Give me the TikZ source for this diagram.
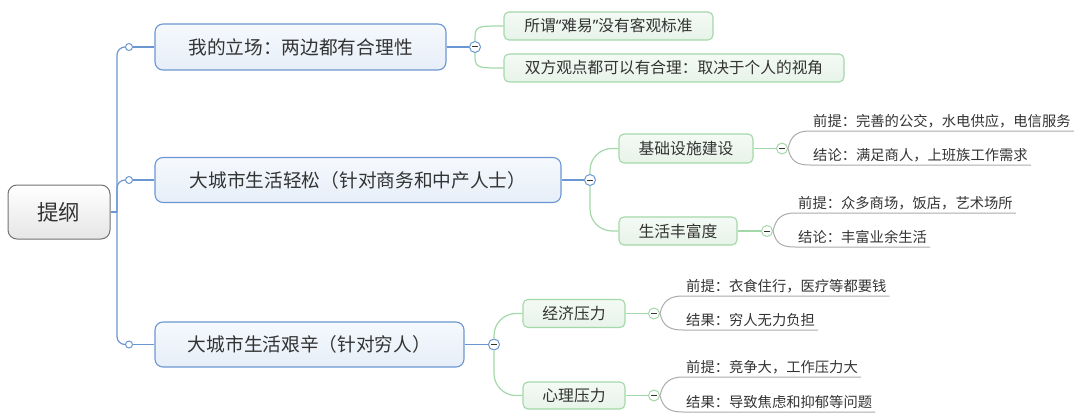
\documentclass[tikz,border=0pt]{standalone}
\usepackage{fontspec}
\setmainfont{Noto Sans CJK SC}
\newfontfamily\qfont{Noto Sans}
\definecolor{txt}{HTML}{333333}
\definecolor{mainline}{HTML}{6A97D3}
\definecolor{maintop}{HTML}{F6F9FD}
\definecolor{mainbot}{HTML}{E6EEF8}
\definecolor{subline}{HTML}{A3D8A8}
\definecolor{subtop}{HTML}{F4FAF5}
\definecolor{subbot}{HTML}{E7F3E9}
\definecolor{leafline}{HTML}{ABABAB}
\definecolor{rootdraw}{HTML}{727272}
\definecolor{rootbot}{HTML}{E6E6E6}
\begin{document}
\begin{tikzpicture}[x=1pt,y=-1pt,
  rootbox/.style={draw=rootdraw, line width=1pt, rounded corners=9pt, top color=white, bottom color=rootbot, minimum width=102pt, minimum height=54pt, inner sep=0pt, text=txt, font=\fontsize{21.5}{24}\selectfont},
  mainbox/.style={draw=mainline, line width=1.1pt, rounded corners=8pt, top color=maintop, bottom color=mainbot, minimum height=45pt, inner sep=0pt, text=txt, font=\fontsize{18.7}{22}\selectfont},
  subbox/.style={draw=subline, line width=1.1pt, rounded corners=5pt, top color=subtop, bottom color=subbot, minimum height=28pt, inner sep=0pt, text=txt, font=\fontsize{15.8}{18}\selectfont},
  leafbox/.style={draw=subline, line width=1.1pt, rounded corners=5pt, top color=subtop, bottom color=subbot, minimum height=28pt, inner sep=0pt, text=txt, font=\fontsize{15.7}{18}\selectfont},
  leaftext/.style={anchor=south west, inner xsep=3pt, inner ysep=3pt, text=txt, font=\fontsize{14.3}{16}\selectfont},
  knob/.style={circle, draw=mainline, fill=white, line width=1pt, minimum size=7pt, inner sep=0pt},
  collapser/.style={circle, draw=#1, fill=white, line width=1pt, minimum size=11pt, inner sep=0pt,
    path picture={\draw[line width=1pt, txt] ([xshift=-2.8pt]path picture bounding box.center) -- ([xshift=2.8pt]path picture bounding box.center);}},
  mainconn/.style={draw=mainline, line width=1.2pt},
  subconn/.style={draw=subline, line width=1.2pt},
  leafconn/.style={draw=leafline, line width=1pt}
]
\useasboundingbox (0,0) rectangle (1080,420);

% root and trunk
\node[rootbox] (root) at (59,212) {提纲};
\coordinate (tr) at (117,212);
\node[knob] (c1) at (129,47) {};
\node[knob] (c2) at (129,180) {};
\node[knob] (c3) at (129,344.5) {};

% main topics
\node[mainbox, minimum width=291pt, minimum height=46pt] (m1) at (300.5,47) {我的立场：两边都有合理性};
\node[mainbox, minimum width=406pt] (m2) at (358,180) {大城市生活轻松（针对商务和中产人士）};
\node[mainbox, minimum width=309pt] (m3) at (309.5,344.5) {大城市生活艰辛（针对穷人）};

\node[collapser=mainline] (x1) at (475,47) {};
\node[collapser=mainline] (x2) at (590,180) {};
\node[collapser=mainline] (x3) at (494,344.5) {};

% first-level connectors
\draw[mainconn] (root.east) -- (tr);
\draw[mainconn, rounded corners=8pt] (c1.west) -| (tr) |- (c3.west);
\draw[mainconn, rounded corners=8pt] (c2.west) -| (tr);
\draw[mainconn] (c1.east) -- (m1.west);
\draw[mainconn] (c2.east) -- (m2.west);
\draw[mainconn] (c3.east) -- (m3.west);
\draw[mainconn] (m1.east) -- (x1.west);
\draw[mainconn] (m2.east) -- (x2.west);
\draw[mainconn] (m3.east) -- (x3.west);

% topic 1 children
\node[leafbox, minimum width=209pt] (a1) at (608.5,26) {所谓{\qfont“}难易{\qfont”}没有客观标准};
\node[leafbox, minimum width=340pt] (a2) at (674,68) {双方观点都可以有合理：取决于个人的视角};
\draw[subconn] (x1.north) .. controls (x1.north |- a1.west) .. (a1.west);
\draw[subconn] (x1.south) .. controls (x1.south |- a2.west) .. (a2.west);

% topic 2 children
\node[subbox, minimum width=134pt, minimum height=29pt] (s1) at (686,148.5) {基础设施建设};
\node[subbox, minimum width=118pt] (s2) at (678,231) {生活丰富度};
\draw[subconn, rounded corners=22pt] (x2.north) |- (s1.west);
\draw[subconn, rounded corners=22pt] (x2.south) |- (s2.west);
\node[collapser=subline] (y1) at (782,148.5) {};
\node[collapser=subline] (y2) at (767,231) {};
\draw[subconn] (s1.east) -- (y1.west);
\draw[subconn] (s2.east) -- (y2.west);

% topic 3 children
\node[subbox, minimum width=102pt] (s3) at (574,313.5) {经济压力};
\node[subbox, minimum width=102pt, minimum height=27pt] (s4) at (574,395.5) {心理压力};
\draw[subconn, rounded corners=22pt] (x3.north) |- (s3.west);
\draw[subconn, rounded corners=22pt] (x3.south) |- (s4.west);
\node[collapser=subline] (y3) at (654,313.5) {};
\node[collapser=subline] (y4) at (654,395.5) {};
\draw[subconn] (s3.east) -- (y3.west);
\draw[subconn] (s4.east) -- (y4.west);

% leaves
\node[leaftext] (l1) at (810,131) {前提：完善的公交，水电供应，电信服务};
\node[leaftext] (l2) at (810,165) {结论：满足商人，上班族工作需求};
\node[leaftext] (l3) at (795,213) {前提：众多商场，饭店，艺术场所};
\node[leaftext] (l4) at (795,247) {结论：丰富业余生活};
\node[leaftext] (l5) at (683,296) {前提：衣食住行，医疗等都要钱};
\node[leaftext] (l6) at (683,330) {结果：穷人无力负担};
\node[leaftext] (l7) at (683,377) {前提：竞争大，工作压力大};
\node[leaftext] (l8) at (683,412) {结果：导致焦虑和抑郁等问题};

\draw[leafconn] (y1.east) .. controls +(3,-13) and +(-13,0) .. (l1.south west) -- (l1.south east);
\draw[leafconn] (y1.east) .. controls +(3,13) and +(-13,0) .. (l2.south west) -- (l2.south east);
\draw[leafconn] (y2.east) .. controls +(3,-13) and +(-13,0) .. (l3.south west) -- (l3.south east);
\draw[leafconn] (y2.east) .. controls +(3,13) and +(-13,0) .. (l4.south west) -- (l4.south east);
\draw[leafconn] (y3.east) .. controls +(3,-13) and +(-13,0) .. (l5.south west) -- (l5.south east);
\draw[leafconn] (y3.east) .. controls +(3,13) and +(-13,0) .. (l6.south west) -- (l6.south east);
\draw[leafconn] (y4.east) .. controls +(3,-13) and +(-13,0) .. (l7.south west) -- (l7.south east);
\draw[leafconn] (y4.east) .. controls +(3,13) and +(-13,0) .. (l8.south west) -- (l8.south east);
\end{tikzpicture}
\end{document}
